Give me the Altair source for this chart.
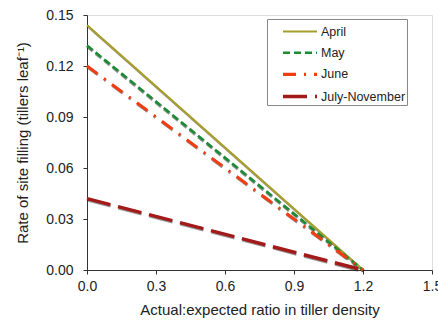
import altair as alt
import pandas as pd

series = ["April", "May", "June", "July-November"]
x_start = [0.0, 0.0, 0.0, 0.0]
x_end = [1.2, 1.2, 1.2, 1.2]
y_start = [0.144, 0.132, 0.120, 0.042]
y_end = [0.0, 0.0, 0.0, 0.0]

colors = ["#A89E2C", "#1C8C34", "#F23C14", "#A31A1A"]
dashes = [[1, 0], [7, 4], [13, 8, 2, 8], [24, 8]]
widths = [2.2, 3.5, 3.2, 4.0]

rows = []
for i, s in enumerate(series):
    rows.append({"series": s, "x": x_start[i], "y": y_start[i], "order": 0})
    rows.append({"series": s, "x": x_end[i], "y": y_end[i], "order": 1})
df = pd.DataFrame(rows)

xscale = alt.Scale(domain=[0, 1.5], nice=False, zero=True)
yscale = alt.Scale(domain=[0, 0.15], nice=False)

FONT = "Liberation Sans"
TXT = "#222222"

layers = []
for i, s in enumerate(series):
    sub = df[df.series == s]
    shadow = alt.Chart(sub).mark_line(
        color="#1a1a1a", strokeWidth=widths[i], strokeDash=dashes[i], yOffset=1, xOffset=0.5, opacity=0.45
    ).encode(x=alt.X("x:Q", scale=xscale), y=alt.Y("y:Q", scale=yscale), order="order:Q")
    layers.append(shadow)

axis_x = alt.Axis(
    values=[0, 0.3, 0.6, 0.9, 1.2, 1.5], format=".1f", grid=False, labelFlush=False,
    title="Actual:expected ratio in tiller density", titleFontSize=15, titleFont=FONT,
    titleFontWeight="normal", titleColor=TXT, labelFont=FONT, labelFontSize=14,
    labelColor=TXT, domainColor="#333", tickColor="#333", tickSize=4, titlePadding=9, labelPadding=5,
)
axis_y = alt.Axis(
    values=[0, 0.03, 0.06, 0.09, 0.12, 0.15], format=".2f", grid=False, labelFlush=False,
    title="Rate of site filling (tillers leaf⁻¹)", titleFontSize=15, titleFont=FONT,
    titleFontWeight="normal", titleColor=TXT, labelFont=FONT, labelFontSize=14,
    labelColor=TXT, domainColor="#333", tickColor="#333", tickSize=4, titlePadding=15, labelPadding=10,
)

main = alt.Chart(df).mark_line().encode(
    x=alt.X("x:Q", scale=xscale, axis=axis_x),
    y=alt.Y("y:Q", scale=yscale, axis=axis_y),
    color=alt.Color(
        "series:N",
        scale=alt.Scale(domain=series, range=colors),
        legend=alt.Legend(
            title=None, orient="none", legendX=180, legendY=4,
            symbolType="M0.3,0H3.7", symbolSize=400, rowPadding=3.2,
            labelFont=FONT, labelFontSize=12.5, labelColor=TXT,
            strokeColor="#888888", padding=1, labelOffset=29,
            labelExpr="datum.label + '    '",
        ),
    ),
    strokeDash=alt.StrokeDash("series:N", scale=alt.Scale(domain=series, range=dashes), legend=None),
    strokeWidth=alt.StrokeWidth("series:N", scale=alt.Scale(domain=series, range=widths), legend=None),
    order="order:Q",
)
layers.append(main)

chart = alt.layer(*layers).properties(
    width=345, height=255,
    padding={"left": 87, "top": 15, "right": 6, "bottom": 52},
    autosize=alt.AutoSizeParams(type="none"),
).configure_view(stroke=None).configure(background="white")

chart.save("out.html", embed_options={"renderer": "svg", "actions": False})
